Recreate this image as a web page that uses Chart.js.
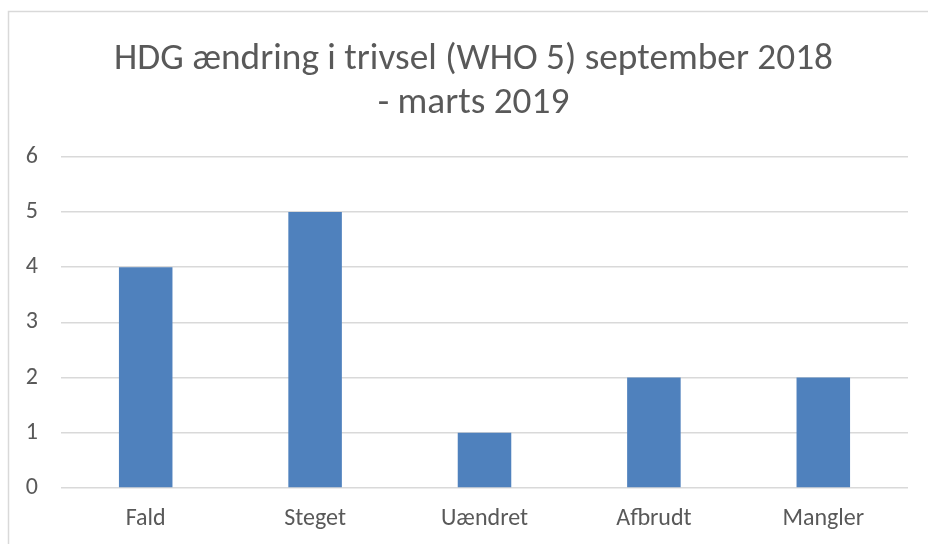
<!DOCTYPE html>
<html><head><meta charset="utf-8">
<script src="https://cdn.jsdelivr.net/npm/chart.js@4.4.0/dist/chart.umd.min.js"></script>
<style>html,body{margin:0;padding:0;background:#fff}#wrap{width:928px;height:544px}</style>
</head><body><div id="wrap"><canvas id="c" width="928" height="544"></canvas></div>
<script>
const categories = ["Fald", "Steget", "Uændret", "Afbrudt", "Mangler"];
const values = [4, 5, 1, 2, 2];
const titleLines = ["HDG ændring i trivsel (WHO 5) september 2018", "- marts 2019"];
const FONT = "Carlito, 'Liberation Sans Narrow', 'Open Sans', sans-serif";
const borderPlugin = {
  id: 'border',
  beforeDraw(chart) {
    const ctx = chart.ctx;
    ctx.save();
    ctx.fillStyle = '#fff';
    ctx.fillRect(0, 0, chart.width, chart.height);
    ctx.strokeStyle = '#d9d9d9';
    ctx.lineWidth = 1.5;
    ctx.strokeRect(8.5, 11.5, 940, 560);
    ctx.restore();
  }
};
new Chart(document.getElementById('c'), {
  type: 'bar',
  data: { labels: categories, datasets: [{ data: values, backgroundColor: '#4f81bd', barPercentage: 1, categoryPercentage: 0.316 }] },
  options: {
    responsive: false, animation: false, devicePixelRatio: 1,
    layout: { padding: { left: 26, right: 7, top: 37, bottom: 0 } },
    plugins: {
      legend: { display: false }, tooltip: { enabled: false },
      title: { display: true, text: titleLines, color: '#595959', font: { family: FONT, size: 37.3, weight: 'normal', lineHeight: 1.19 }, padding: { top: 0, bottom: 31 } }
    },
    scales: {
      y: { min: 0, max: 6, ticks: { stepSize: 1, color: '#595959', font: { family: FONT, size: 24 }, padding: 23 },
           grid: { color: '#d9d9d9', lineWidth: 1.5, drawTicks: false }, border: { display: false },
           afterFit(s) { s.width = 35; } },
      y2: { position: 'right', display: true, ticks: { display: false }, grid: { display: false, drawTicks: false }, border: { display: false },
           afterFit(s) { s.width = 13; } },
      x: { ticks: { color: '#595959', font: { family: FONT, size: 24 }, padding: 17 },
           grid: { display: false, drawTicks: false }, border: { display: false },
           afterFit(s) { s.height = 56; } }
    }
  },
  plugins: [borderPlugin]
});
</script></body></html>
